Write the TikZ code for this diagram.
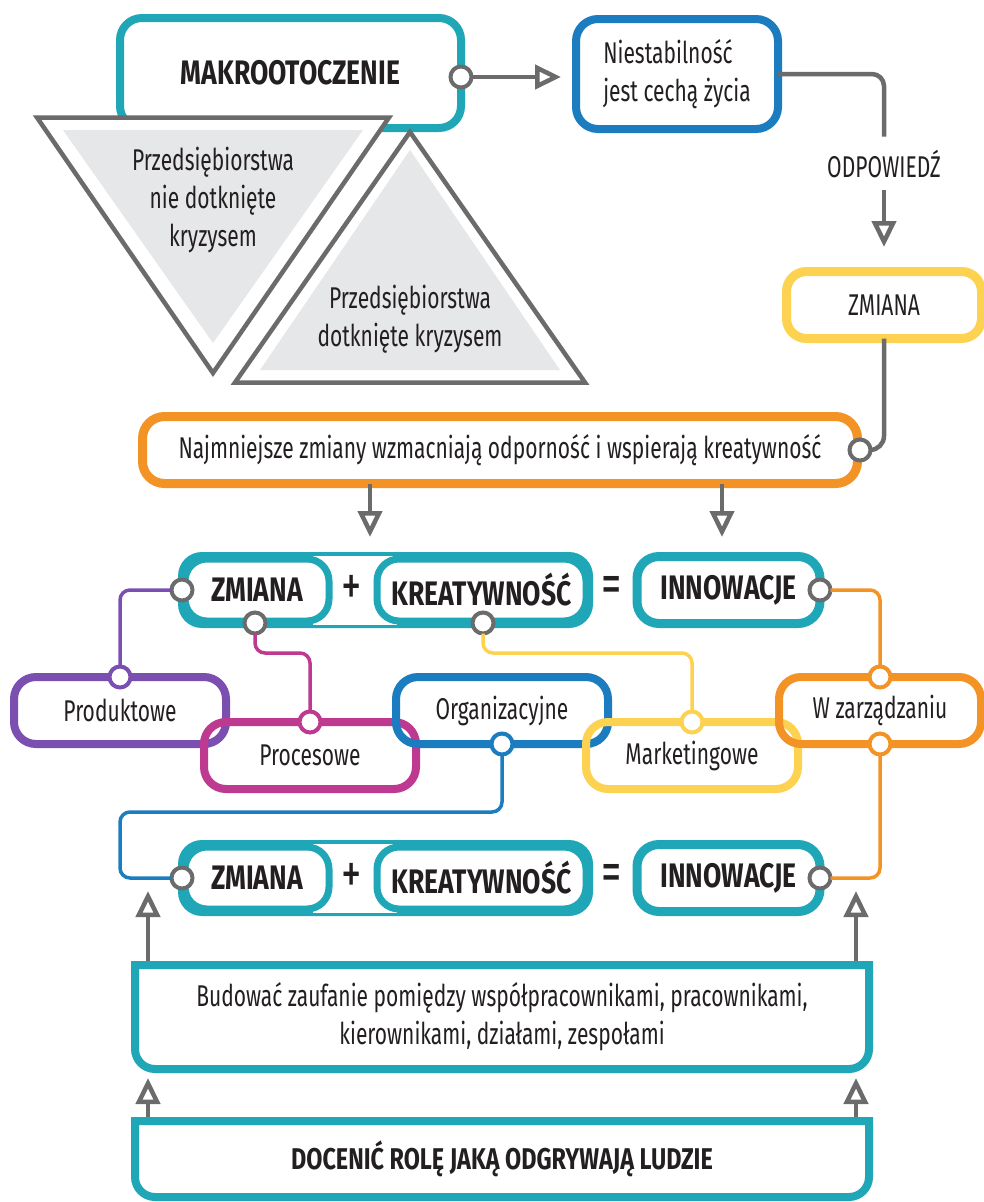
\documentclass[tikz,border=0pt]{standalone}
\usepackage{fontspec}
\setmainfont{Fira Sans}[FakeStretch=0.70, BoldFeatures={FakeStretch=0.78}]
\usetikzlibrary{arrows.meta,calc}

\definecolor{cteal}{HTML}{1FA7B8}
\definecolor{cblue}{HTML}{1B7DC0}
\definecolor{cyellow}{HTML}{FDD250}
\definecolor{corange}{HTML}{F39325}
\definecolor{cpurple}{HTML}{7B4FB0}
\definecolor{cmagenta}{HTML}{BE3A91}
\definecolor{cgray}{HTML}{6B6B6B}
\definecolor{ctext}{HTML}{231F20}
\definecolor{ctri}{HTML}{E6E7E8}

\newcommand\txtreg{\fontsize{30}{38}\selectfont}
\newcommand\txtmid{\fontsize{30}{36}\selectfont}
\newcommand\txttri{\fontsize{30}{38}\selectfont}
\newcommand\txtsym{\fontsize{58}{58}\selectfont}
\newcommand\txtbold{\bfseries\fontsize{34}{40}\selectfont}
\newcommand\txtbig{\bfseries\fontsize{34}{42}\selectfont}
\newcommand\txtdoc{\bfseries\fontsize{30}{36}\selectfont}

\begin{document}
\begin{tikzpicture}[x=1pt, y=-1pt,
  every node/.style={text=ctext},
  lbl/.style={inner sep=0pt, outer sep=0pt, align=center, font=\txtreg},
  box/.style={draw=#1, line width=8pt, rounded corners=22pt, fill=white,
    inner sep=0pt, outer sep=0pt, align=center, font=\txtreg},
  pill/.style={draw=cteal, line width=7pt, rounded corners=22pt, fill=white,
    inner sep=0pt, outer sep=0pt, minimum height=62pt, font=\txtbold},
  port/.style={circle, draw=#1, line width=4pt, fill=white,
    minimum size=21pt, inner sep=0pt, outer sep=0pt},
  gline/.style={draw=cgray, line width=4.5pt},
  garr/.style={gline, -{Triangle[open, length=26pt, width=24pt]}},
  link/.style={draw=#1, line width=3.5pt, rounded corners=10pt},
  tri/.style={draw=cgray, fill=white, line width=4.5pt, line join=miter},
]
\fill[white] (0,0) rectangle (984,1202);
\useasboundingbox (0,0) rectangle (984,1202);

% ---- top left: environment box and the two triangles
\node[box=cteal, minimum width=341pt, minimum height=110pt, font=\txtbig]
  (makro) at (290.5,73) {MAKROOTOCZENIE};
\filldraw[tri] (37,117.5) -- (389,117.5) -- (213,373) -- cycle;
\fill[ctri] (63,130) -- (363,130) -- (213,343) -- cycle;
\filldraw[tri] (410,132) -- (585,382.5) -- (235,382.5) -- cycle;
\fill[ctri] (410,150) -- (560,370) -- (260,370) -- cycle;
\node[lbl, font=\txttri] (triA) at (213,200)
  {Przedsiębiorstwa\\nie dotknięte\\kryzysem};
\node[lbl, font=\txttri] (triB) at (410,319)
  {Przedsiębiorstwa\\dotknięte kryzysem};
\node[port=cgray] (pm) at (461,77) {};

% ---- top right chain
\node[box=cblue, minimum width=202pt, minimum height=110pt, align=left]
  (nie) at (677,74) {Niestabilność\\jest cechą życia};
\node[lbl, anchor=base, inner ysep=13pt] (odp) at (884,177) {ODPOWIEDŹ};
\node[box=cyellow, line width=9pt, minimum width=195pt, minimum height=67pt,
  rounded corners=20pt] (zm) at (884,305) {ZMIANA};
\node[box=corange, line width=9pt, minimum width=715pt, minimum height=67pt,
  font=\txtmid] (naj) at (500,450)
  {Najmniejsze zmiany wzmacniają odporność i wspierają kreatywność};
\node[port=cgray] (cz) at (860,450) {};

\draw[garr, shorten >=15pt] (pm) -- (pm -| nie.west);
\draw[gline, rounded corners=12pt] (nie) -| (odp);
\draw[garr, shorten >=24.5pt] (odp) -- (zm);
\draw[gline, rounded corners=14pt] (zm) |- (cz);

% ---- the two equation rows
\foreach \r/\yy in {1/590, 2/878} {
  \fill[cteal, rounded corners=24pt] (178,\yy-38) rectangle (593,\yy+38);
  \fill[white] (313,\yy-34.5) rectangle (397,\yy+34.5);
  \node[pill, minimum width=144pt] (zA\r) at (257,\yy) {ZMIANA};
  \node[pill, minimum width=209pt] (kA\r) at (481.5,\yy) {KREATYWNOŚĆ};
  \node[lbl, font=\txtsym] (plus\r) at (352,\yy) {+};
  \node[lbl, font=\txtsym] (eq\r) at (612,\yy) {=};
  \node[pill, line width=9pt, minimum width=183pt, minimum height=67pt]
    (inA\r) at (728.5,\yy) {INNOWACJE};
  \node[port=cgray] (pz\r) at (182,\yy) {};
  \node[port=cgray] (pi\r) at (820,\yy) {};
}
\node[port=cgray] (pzb) at (255,623) {};
\node[port=cgray] (pkb) at (483,623) {};

\coordinate (ta) at (370,537);
\coordinate (tb) at (722,537);
\draw[garr] (naj.south -| ta) -- (ta);
\draw[garr] (naj.south -| tb) -- (tb);

% ---- kinds of innovation
\tikzset{kind/.style={box=#1, fill=none, minimum width=212pt, minimum height=67pt}}
\node[kind=cpurple] (prod) at (120,710.5) {Produktowe};
\node[kind=cmagenta] (proc) at (310,755.5) {Procesowe};
\node[kind=cblue] (org) at (502,710.5) {Organizacyjne};
\node[kind=cyellow] (mark) at (692,755.5) {Marketingowe};
\node[kind=corange, minimum width=202pt] (wz) at (880,710.5) {W zarządzaniu};

\node[port=cpurple] (pprod) at (prod.north) {};
\node[port=cmagenta] (pproc) at (proc.north) {};
\node[port=cblue] (porg) at (org.south) {};
\node[port=cyellow] (pmark) at (mark.north) {};
\node[port=corange] (pwz1) at (wz.north) {};
\node[port=corange] (pwz2) at (wz.south) {};

\draw[link=cpurple] (pz1) -| (pprod);
\draw[link=cmagenta] (pzb) -- ++(0,30) -| (pproc);
\draw[link=cyellow] (pkb) -- ++(0,30) -| (pmark);
\draw[link=corange] (pi1) -| (pwz1);
\coordinate (bturn) at (120,812);
\draw[link=cblue] (porg) |- (bturn) |- (pz2);
\draw[link=corange] (pwz2) |- (pi2);

% ---- foundation boxes
\node[lbl, minimum width=734pt, minimum height=104pt] (bud) at (502,1017)
  {Budować zaufanie pomiędzy współpracownikami, pracownikami,\\kierownikami, działami, zespołami};
\node[lbl, minimum width=734pt, minimum height=76pt, font=\txtdoc] (doc) at (502,1159)
  {DOCENIĆ ROLĘ JAKĄ ODGRYWAJĄ LUDZIE};

\coordinate (ua) at (148,891);
\coordinate (ub) at (856,891);
\coordinate (uc) at (148,1078);
\coordinate (ud) at (856,1078);
\draw[garr] (bud.north -| ua) -- (ua);
\draw[garr] (bud.north -| ub) -- (ub);
\draw[garr] (doc.north -| uc) -- (uc);
\draw[garr] (doc.north -| ud) -- (ud);

\foreach \b in {bud, doc} {
  \draw[cteal, line width=8pt, line join=miter]
    (\b.north west) -- ([yshift=20pt]\b.south west)
    arc[start angle=180, end angle=270, radius=20pt]
    -- ([xshift=-20pt]\b.south east)
    arc[start angle=270, end angle=360, radius=20pt]
    -- (\b.north east) -- cycle;
}
\end{tikzpicture}
\end{document}
